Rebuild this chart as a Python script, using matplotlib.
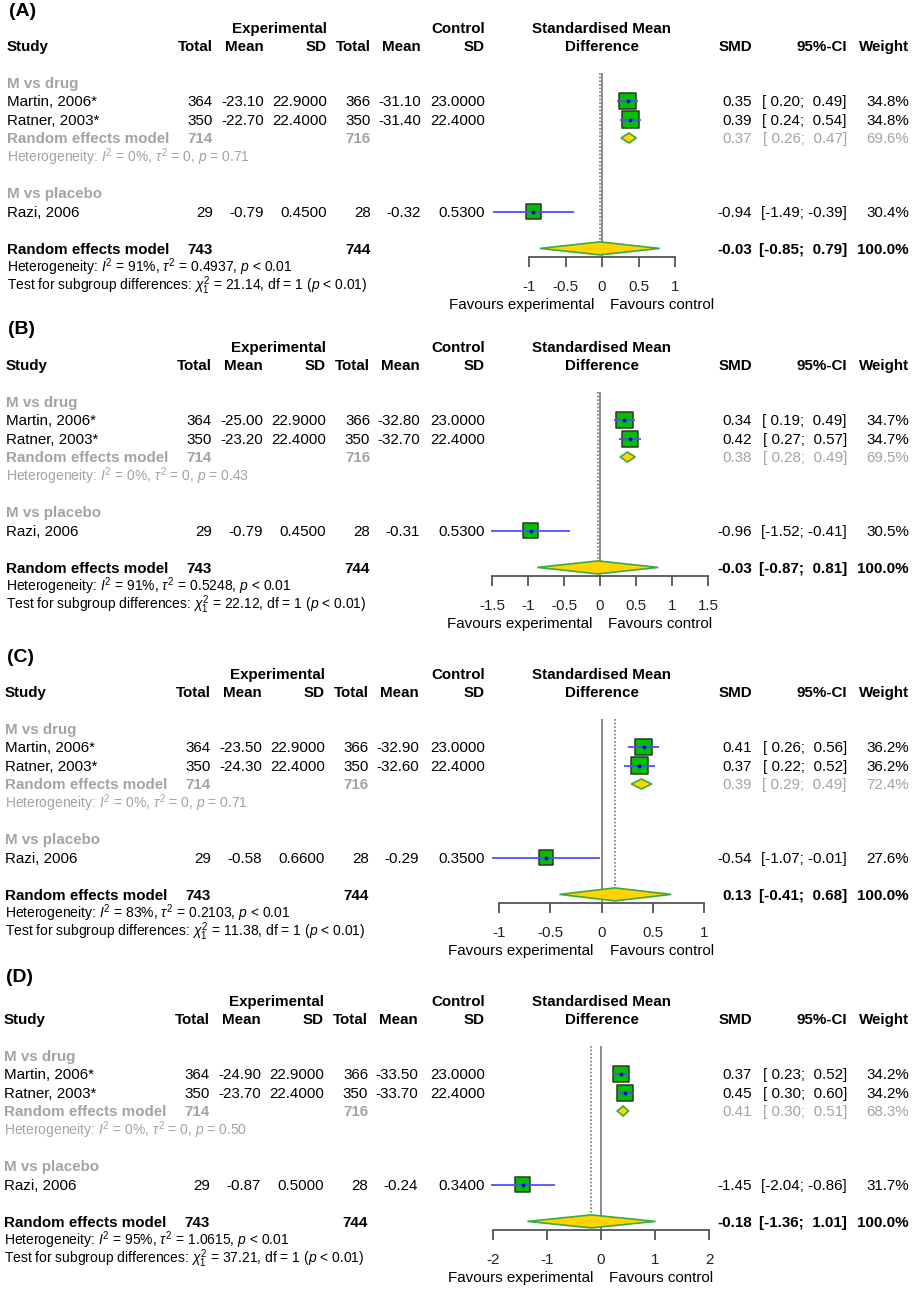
import matplotlib
matplotlib.use("Agg")
import matplotlib.pyplot as plt
from matplotlib.patches import Polygon

plt.rcParams["font.family"] = ["Liberation Sans", "DejaVu Sans"]
plt.rcParams["mathtext.fontset"] = "custom"
plt.rcParams["mathtext.rm"] = "Liberation Sans"
plt.rcParams["mathtext.it"] = "Liberation Sans:italic"
plt.rcParams["mathtext.bf"] = "Liberation Sans:bold"

W, H = 913, 1290
FS = 10.9
FS_SMALL = 10.0
GREY = "#a3a3a3"

# ---- data ----
panels = ["(A)", "(B)", "(C)", "(D)"]
studies = ["Martin, 2006*", "Ratner, 2003*", "Razi, 2006"]
exp_total = [364, 350, 29]
ctrl_total = [366, 350, 28]
sub_total = (714, 716)
all_total = (743, 744)

exp_mean = [[-23.10, -22.70, -0.79], [-25.00, -23.20, -0.79],
            [-23.50, -24.30, -0.58], [-24.90, -23.70, -0.87]]
exp_sd = [[22.9, 22.4, 0.45], [22.9, 22.4, 0.45],
          [22.9, 22.4, 0.66], [22.9, 22.4, 0.50]]
ctrl_mean = [[-31.10, -31.40, -0.32], [-32.80, -32.70, -0.31],
             [-32.90, -32.60, -0.29], [-33.50, -33.70, -0.24]]
ctrl_sd = [[23.0, 22.4, 0.53], [23.0, 22.4, 0.53],
           [23.0, 22.4, 0.35], [23.0, 22.4, 0.34]]

smd = [[0.35, 0.39, -0.94], [0.34, 0.42, -0.96],
       [0.41, 0.37, -0.54], [0.37, 0.45, -1.45]]
ci_lo = [[0.20, 0.24, -1.49], [0.19, 0.27, -1.52],
         [0.26, 0.22, -1.07], [0.23, 0.30, -2.04]]
ci_hi = [[0.49, 0.54, -0.39], [0.49, 0.57, -0.41],
         [0.56, 0.52, -0.01], [0.52, 0.60, -0.86]]
weight = [[34.8, 34.8, 30.4], [34.7, 34.7, 30.5],
          [36.2, 36.2, 27.6], [34.2, 34.2, 31.7]]

sub_smd = [0.37, 0.38, 0.39, 0.41]
sub_lo = [0.26, 0.28, 0.29, 0.30]
sub_hi = [0.47, 0.49, 0.49, 0.51]
sub_w = [69.6, 69.5, 72.4, 68.3]
sub_p = ["0.71", "0.43", "0.71", "0.50"]

all_smd = [-0.03, -0.03, 0.13, -0.18]
all_lo = [-0.85, -0.87, -0.41, -1.36]
all_hi = [0.79, 0.81, 0.68, 1.01]
all_i2 = ["91%", "91%", "83%", "95%"]
all_tau2 = ["0.4937", "0.5248", "0.2103", "1.0615"]
chi2 = ["21.14", "22.12", "11.38", "37.21"]

ticks = [[-1, -0.5, 0, 0.5, 1], [-1.5, -1, -0.5, 0, 0.5, 1, 1.5],
         [-1, -0.5, 0, 0.5, 1], [-2, -1, 0, 1, 2]]
tick_labels = [["-1", "-0.5", "0", "0.5", "1"],
               ["-1.5", "-1", "-0.5", "0", "0.5", "1", "1.5"],
               ["-1", "-0.5", "0", "0.5", "1"],
               ["-2", "-1", "0", "1", "2"]]

# ---- layout (pixels) ----
study_y = [46, 365, 692, 1019]
label_y = [12, 330, 657, 977]
dx = [0, -1, -2, -3]
zero_px = [602, 600, 601.5, 601]
px_per_unit = [73, 72, 102.5, 54]
ROW = 18.4
FX0, FX1 = 470, 745

fig = plt.figure(figsize=(W / 100, H / 100), dpi=100)
base = fig.add_axes([0, 0, 1, 1])
base.set_xlim(0, W)
base.set_ylim(H, 0)
base.axis("off")


def txt(x, y, s, ha="left", bold=False, color="black", size=FS):
    base.text(x, y + 5.2, s, ha=ha, va="baseline", fontsize=size,
              fontweight="bold" if bold else "normal", color=color)


def ci_str(lo, hi):
    return "[%5s; %5s]" % ("%.2f" % lo, "%.2f" % hi)


for p in range(4):
    y0 = study_y[p]
    d = dx[p]
    r = lambda k: y0 + k * ROW

    base.text(9 + d, label_y[p], panels[p], ha="left", va="center",
              fontsize=14, fontweight="bold")

    # header
    txt(327 + d, r(-1), "Experimental", "right", True)
    txt(485, r(-1), "Control", "right", True)
    txt(602, r(-1), "Standardised Mean", "center", True)
    txt(602, r(0), "Difference", "center", True)
    txt(7 + d, r(0), "Study", "left", True)
    for x, s in [(213, "Total"), (264, "Mean"), (327, "SD"),
                 (371, "Total"), (421, "Mean")]:
        txt(x + d, r(0), s, "right", True)
    txt(485, r(0), "SD", "right", True)
    txt(752, r(0), "SMD", "right", True)
    txt(847, r(0), "95%-CI", "right", True)
    txt(909, r(0), "Weight", "right", True)

    # subgroups
    txt(7 + d, r(2), "M vs drug", "left", True, GREY)
    txt(7 + d, r(8), "M vs placebo", "left", True, GREY)
    rows = [r(3), r(4), r(9)]
    for i in range(3):
        y = rows[i]
        txt(7 + d, y, studies[i])
        txt(213 + d, y, str(exp_total[i]), "right")
        txt(264 + d, y, "%.2f" % exp_mean[p][i], "right")
        txt(327 + d, y, "%.4f" % exp_sd[p][i], "right")
        txt(371 + d, y, str(ctrl_total[i]), "right")
        txt(421 + d, y, "%.2f" % ctrl_mean[p][i], "right")
        txt(485, y, "%.4f" % ctrl_sd[p][i], "right")
        txt(752, y, "%.2f" % smd[p][i], "right")
        txt(847, y, ci_str(ci_lo[p][i], ci_hi[p][i]), "right")
        txt(909, y, "%.1f%%" % weight[p][i], "right")

    txt(7 + d, r(5), "Random effects model", "left", True, GREY)
    txt(213 + d, r(5), str(sub_total[0]), "right", True, GREY)
    txt(371 + d, r(5), str(sub_total[1]), "right", True, GREY)
    txt(752, r(5), "%.2f" % sub_smd[p], "right", False, GREY)
    txt(847, r(5), ci_str(sub_lo[p], sub_hi[p]), "right", False, GREY)
    txt(909, r(5), "%.1f%%" % sub_w[p], "right", False, GREY)
    txt(7 + d, r(6), r"Heterogeneity: $\mathit{I}^2$ = 0%, $\tau^2$ = 0, "
        r"$\mathit{p}$ = " + sub_p[p], "left", False, GREY, FS_SMALL)

    txt(7 + d, r(11), "Random effects model", "left", True)
    txt(213 + d, r(11), str(all_total[0]), "right", True)
    txt(371 + d, r(11), str(all_total[1]), "right", True)
    txt(752, r(11), "%.2f" % all_smd[p], "right", True)
    txt(847, r(11), ci_str(all_lo[p], all_hi[p]), "right", True)
    txt(909, r(11), "100.0%", "right", True)
    txt(7 + d, r(12), r"Heterogeneity: $\mathit{I}^2$ = " + all_i2[p]
        + r", $\tau^2$ = " + all_tau2[p] + r", $\mathit{p}$ < 0.01",
        size=FS_SMALL)
    txt(7 + d, r(13), r"Test for subgroup differences: $\chi^2_1$ = "
        + chi2[p] + r", df = 1 ($\mathit{p}$ < 0.01)", size=FS_SMALL)

    txt(zero_px[p] - 8, r(14), "Favours experimental", "right")
    txt(zero_px[p] + 8, r(14), "Favours control", "left")

    # forest axes
    top_y = r(1.45)
    axis_y = r(11.47)
    ax = fig.add_axes([FX0 / W, 1 - axis_y / H, (FX1 - FX0) / W,
                       (axis_y - top_y) / H])
    ax.patch.set_alpha(0)
    ax.set_xlim((FX0 - zero_px[p]) / px_per_unit[p],
                (FX1 - zero_px[p]) / px_per_unit[p])
    ax.set_ylim(axis_y, top_y)
    for s in ["top", "left", "right"]:
        ax.spines[s].set_visible(False)
    ax.spines["bottom"].set_bounds(ticks[p][0], ticks[p][-1])
    ax.spines["bottom"].set_color("#555555")
    ax.spines["bottom"].set_linewidth(1.3)
    ax.set_yticks([])
    ax.set_xticks(ticks[p])
    ax.set_xticklabels(tick_labels[p])
    ax.tick_params(axis="x", direction="out", length=7.5, width=1.3,
                   color="#555555", labelsize=FS, pad=9, labelcolor="#222222")

    ax.vlines(0, top_y, axis_y, color="#8a8a8a", lw=1.4, zorder=1)
    ax.vlines(all_smd[p], top_y, r(11), color="#777777", lw=1.2,
              linestyles=(0, (1, 1.2)), zorder=1)

    sizes = [(2.75 * w ** 0.5 * 0.72) ** 2 for w in weight[p]]
    ax.scatter(smd[p], rows, s=sizes, marker="s", facecolor="#00c000",
               edgecolor="#333333", linewidth=1.1, zorder=3, clip_on=False)
    ax.hlines(rows, ci_lo[p], ci_hi[p], color="#4f4fff", lw=1.3, zorder=4,
              clip_on=False)
    ax.scatter(smd[p], rows, s=3, color="#0000cc", zorder=5, clip_on=False)

    for est, lo, hi, yy, hh in [(sub_smd[p], sub_lo[p], sub_hi[p], r(5), 5),
                                (all_smd[p], all_lo[p], all_hi[p], r(11), 6.5)]:
        ax.add_patch(Polygon([(lo, yy), (est, yy - hh), (hi, yy), (est, yy + hh)],
                             closed=True, facecolor="#ffd400",
                             edgecolor="#3caa3c", linewidth=1.2, zorder=3,
                             clip_on=False))

fig.savefig("out.png", dpi=100)
